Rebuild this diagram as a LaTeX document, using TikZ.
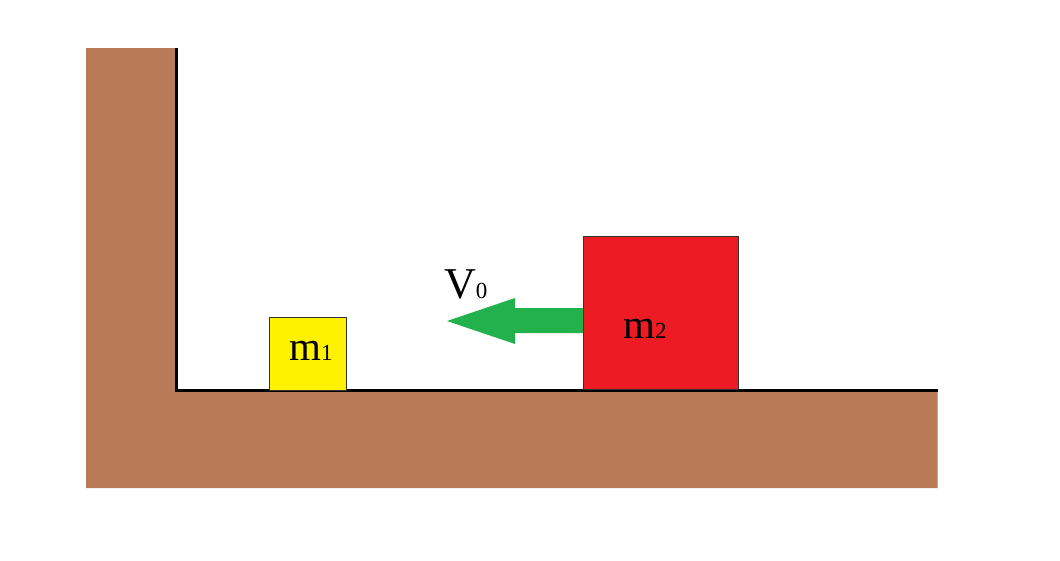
\documentclass[tikz,border=0pt]{standalone}
\usepackage{fontspec}
\setmainfont{Liberation Serif}
\definecolor{ground}{HTML}{B97A57}
\definecolor{blockyellow}{HTML}{FFF200}
\definecolor{blockred}{HTML}{ED1C24}
\definecolor{arrowgreen}{HTML}{22B14C}
\definecolor{edgegray}{HTML}{333333}
\tikzset{
  block/.style={draw=edgegray, line width=0.8pt, anchor=north west, inner sep=0pt, outer sep=0pt},
  masslabel/.style={anchor=base west, inner sep=0pt, font=\fontsize{41}{41}\selectfont},
  surface/.style={line width=3pt, line cap=butt, line join=miter},
}
\newcommand{\smallsub}[1]{{\fontsize{23}{23}\selectfont #1}}
\begin{document}
\begin{tikzpicture}[x=1pt,y=-1pt]
\useasboundingbox (0,0) rectangle (1060,560);
% ground (wall + floor)
\fill[ground] (86,48) -- (176,48) -- (176,390) -- (937.5,390) -- (937.5,488) -- (86,488) -- cycle;
% surfaces
\coordinate (walltop) at (176.5,48);
\coordinate (corner) at (176.5,390.5);
\coordinate (floorend) at (937.5,390.5);
\draw[surface] (walltop) -- (corner) -- (floorend);
% blocks
\node[block, fill=blockyellow, minimum width=77pt, minimum height=73pt] (m1) at (269,317) {};
\node[block, fill=blockred, minimum width=155pt, minimum height=153pt] (m2) at (583,236) {};
\node[masslabel] (m1label) at (289,360) {m\smallsub{1}};
\node[masslabel] (m2label) at (623,338) {m\smallsub{2}};
% velocity arrow
\coordinate (tip) at (447,321);
\fill[arrowgreen] (m2.west |- 0,308) -- (515,308) -- (515,298) -- (tip) -- (515,344) -- (515,333) -- (m2.west |- 0,333) -- cycle;
\node[anchor=base west, inner sep=0pt, font=\fontsize{44}{44}\selectfont] (v0) at (444,298) {V\smallsub{0}};
\end{tikzpicture}
\end{document}
